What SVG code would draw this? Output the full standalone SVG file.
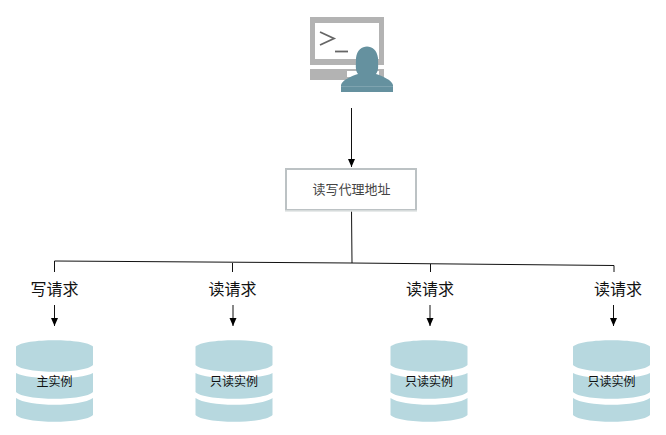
<svg xmlns="http://www.w3.org/2000/svg" width="666" height="435" viewBox="0 0 666 435">
<style>
text{font-family:"Liberation Sans","Noto Sans CJK SC",sans-serif;text-anchor:middle}
.l{font-size:16px;fill:#111}
.d{font-size:12px;fill:#111}
.c{fill:none;stroke:#111;stroke-width:1}
.db{fill:#b7d8df}
</style>
<defs>
<marker id="b" markerUnits="userSpaceOnUse" markerWidth="9" markerHeight="9" refX="8" refY="3.500" orient="auto" viewBox="0 0 9 7"><path d="M0 0L8 3.500L0 7Z" fill="#000"/></marker>
<g id="cyl">
<path class="db" d="M0 6.500C8 -2 69 -2 77 6.500V25C69 34 8 34 0 25Z"/>
<path class="db" d="M0 33C12 40 65 40 77 33V52C69 61 8 61 0 52Z"/>
<path class="db" d="M0 58C12 67 65 67 77 58V75C69 84 8 84 0 75Z"/>
</g>
</defs>
<g id="connectors">
<path class="c" d="M351.500 108V167" marker-end="url(#b)"/>
<path class="c" d="M351.500 209L352 263"/>
<path class="c" d="M54.500 272V261L351 263L614 265.500V272"/>
<path class="c" d="M232.500 263V272M430.500 264V272"/>
<path class="c" d="M54.500 305V326" marker-end="url(#b)"/>
<path class="c" d="M233 305V326" marker-end="url(#b)"/>
<path class="c" d="M430 305V326" marker-end="url(#b)"/>
<path class="c" d="M613.500 305V326" marker-end="url(#b)"/>
</g>
<g id="user">
<rect x="310" y="17" width="74" height="48" fill="#b3b3b3"/>
<rect x="315" y="23" width="64" height="36" fill="#fff"/>
<rect x="310" y="69" width="74" height="11" fill="#b3b3b3"/>
<rect x="347" y="71" width="32" height="6" fill="#fff"/>
<path d="M320 32L334 38.500L320 45" fill="none" stroke="#666" stroke-width="1.800"/>
<path d="M335 51.500H348" stroke="#666" stroke-width="1.800"/>
<path d="M341 92V85C342 80 352 76 358 74C355 70 356 66 356 58C357 50 362 46.500 367 46.500C372 46.500 377 50 378 58C378 66 379 70 376 74C382 76 392 80 393 85V92Z" fill="#65919f"/>
<path d="M341 86.500H393" stroke="#8fb0ba" stroke-width=".6"/>
</g>
<g id="proxy">
<rect x="286" y="169" width="130" height="41" fill="#fff" stroke="#bcc2c4" stroke-width="2"/>
<path d="M285 211H417" stroke="#dfe3e3" stroke-width="1.500"/>
<text x="351.500" y="194" style="font-size:13px;fill:#444">读写代理地址</text>
</g>
<g id="label-write"><text class="l" x="54.500" y="295">写请求</text></g>
<g id="label-read-1"><text class="l" x="232.500" y="295">读请求</text></g>
<g id="label-read-2"><text class="l" x="430" y="295">读请求</text></g>
<g id="label-read-3"><text class="l" x="618" y="295">读请求</text></g>
<g id="db-main"><use href="#cyl" x="16" y="340"/><text class="d" x="54.500" y="386">主实例</text></g>
<g id="db-read-1"><use href="#cyl" x="195.500" y="340"/><text class="d" x="234" y="386">只读实例</text></g>
<g id="db-read-2"><use href="#cyl" x="390.500" y="340"/><text class="d" x="429" y="386">只读实例</text></g>
<g id="db-read-3"><use href="#cyl" x="573" y="340"/><text class="d" x="611.500" y="386">只读实例</text></g>
</svg>
